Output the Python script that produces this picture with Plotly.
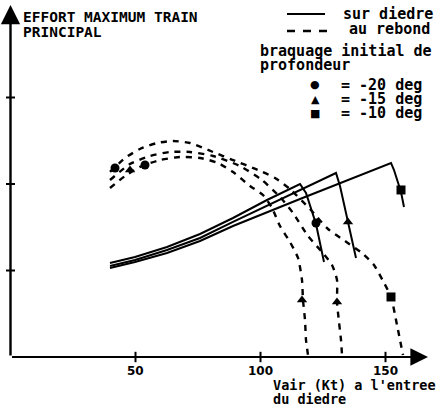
import plotly.graph_objects as go

# ---------------- data ----------------
# "sur diedre" (solid) curves: speed (Kt) vs max effort (arbitrary units)
sur_m20_x = [39.8, 49.8, 62.6, 75.8, 89.0, 102.6, 115.8, 118.2, 122.2, 125.4]
sur_m20_y = [1.087, 1.156, 1.272, 1.422, 1.607, 1.815, 2.000, 1.896, 1.538, 1.098]
sur_m15_x = [39.8, 49.8, 62.6, 75.8, 89.0, 102.6, 130.2, 131.8, 135.0, 138.2]
sur_m15_y = [1.052, 1.121, 1.237, 1.376, 1.561, 1.746, 2.127, 1.977, 1.561, 1.145]
sur_m10_x = [39.8, 49.8, 62.6, 75.8, 89.0, 102.6, 115.8, 152.2, 153.4, 156.2, 157.4]
sur_m10_y = [1.029, 1.098, 1.202, 1.341, 1.514, 1.676, 1.827, 2.243, 2.162, 1.908, 1.734]

# "au rebond" (dashed) curves
reb_m20_x = [39.8, 45.8, 51.8, 59.8, 67.8, 75.8, 83.0, 89.0, 95.8, 101.0, 104.6, 107.8,
             111.8, 115.0, 116.6, 117.0, 117.8, 118.2, 119.0]
reb_m20_y = [1.954, 2.092, 2.197, 2.277, 2.312, 2.301, 2.243, 2.139, 1.977, 1.873, 1.723, 1.514,
             1.329, 1.145, 0.890, 0.659, 0.428, 0.197, 0.023]
reb_m15_x = [39.8, 47.8, 55.8, 63.8, 71.8, 81.0, 91.8, 100.6, 107.8, 113.0, 119.0, 124.6,
             128.6, 130.6, 130.6, 131.4, 132.2, 132.6]
reb_m15_y = [2.046, 2.231, 2.324, 2.370, 2.370, 2.324, 2.208, 2.046, 1.850, 1.665, 1.399, 1.214,
             1.064, 0.890, 0.636, 0.405, 0.197, 0.023]
reb_m10_x = [39.8, 45.8, 51.8, 58.6, 65.0, 71.8, 81.0, 89.0, 99.0, 105.8, 111.8, 119.8,
             127.0, 133.8, 140.6, 145.4, 149.0, 152.2, 154.6, 157.0]
reb_m10_y = [2.139, 2.301, 2.405, 2.474, 2.497, 2.474, 2.370, 2.277, 2.162, 2.069, 1.942, 1.711,
             1.480, 1.341, 1.202, 1.064, 0.879, 0.694, 0.370, 0.023]

# marker points on the curves
mark_sur_x = [122.2, 135.0, 156.2]
mark_sur_y = [1.549, 1.561, 1.931]
mark_sur_sym = ["circle", "triangle-up", "square"]
mark_reb_low_x = [116.6, 130.6, 152.2]
mark_reb_low_y = [0.659, 0.636, 0.694]
mark_reb_low_sym = ["triangle-up", "triangle-up", "square"]
mark_reb_start_x = [41.8, 47.8, 53.8]
mark_reb_start_y = [2.185, 2.162, 2.220]
mark_reb_start_sym = ["circle", "triangle-up", "circle"]

x_ticks = [50, 100, 150]
x_tick_labels = ["50", "100", "150"]
y_ticks = [1, 2, 3]
x_axis_end = 167.0
y_axis_end = 4.07

legend_items = ["= -20 deg", "= -15 deg", "= -10 deg"]
legend_symbols = ["\u25CF", "\u25B2", "\u25A0"]

# ---------------- figure ----------------
W, H = 436, 411
X0_PX, X_SCALE = 10.5, 2.5
Y0_PX, Y_SCALE = 357.0, 86.5
x_range = [-X0_PX / X_SCALE, (W - X0_PX) / X_SCALE]
y_range = [-(H - Y0_PX) / Y_SCALE, Y0_PX / Y_SCALE]

INK = "#000000"
MONO = "DejaVu Sans Mono"
SANS = "DejaVu Sans"


def px(x, y):
    return x / W, 1 - y / H


fig = go.Figure()

for xs, ys in [(sur_m20_x, sur_m20_y), (sur_m15_x, sur_m15_y), (sur_m10_x, sur_m10_y)]:
    fig.add_trace(go.Scatter(x=xs, y=ys, mode="lines",
                             line=dict(color=INK, width=2), hoverinfo="skip"))
for xs, ys in [(reb_m20_x, reb_m20_y), (reb_m15_x, reb_m15_y), (reb_m10_x, reb_m10_y)]:
    fig.add_trace(go.Scatter(x=xs, y=ys, mode="lines",
                             line=dict(color=INK, width=2.4, dash="6px,6px", shape="spline",
                                       smoothing=0.6),
                             hoverinfo="skip"))

for xs, ys, sy in [(mark_sur_x, mark_sur_y, mark_sur_sym),
                   (mark_reb_low_x, mark_reb_low_y, mark_reb_low_sym),
                   (mark_reb_start_x, mark_reb_start_y, mark_reb_start_sym)]:
    fig.add_trace(go.Scatter(x=xs, y=ys, mode="markers",
                             marker=dict(color=INK, size=9, symbol=sy,
                                         line=dict(width=0)),
                             hoverinfo="skip"))

shapes = []
annotations = []

# axes lines with arrows
annotations.append(dict(x=x_axis_end, y=0, ax=0, ay=0, xref="x", yref="y", axref="x", ayref="y",
                        text="", showarrow=True, arrowhead=2, arrowsize=1.6, arrowwidth=2.2,
                        arrowcolor=INK, standoff=0))
annotations.append(dict(x=0, y=y_axis_end, ax=0, ay=0, xref="x", yref="y", axref="x", ayref="y",
                        text="", showarrow=True, arrowhead=2, arrowsize=1.6, arrowwidth=2.4,
                        arrowcolor=INK, standoff=0))

# tick marks (crossing the axis)
for t in x_ticks:
    shapes.append(dict(type="line", xref="x", yref="y", x0=t, x1=t, y0=-0.06, y1=0.06,
                       line=dict(color=INK, width=2)))
for t in y_ticks:
    shapes.append(dict(type="line", xref="x", yref="y", x0=-1.8, x1=1.8, y0=t, y1=t,
                       line=dict(color=INK, width=2)))
for t, lab in zip(x_ticks, x_tick_labels):
    annotations.append(dict(x=t, y=-0.16, xref="x", yref="y", text="<b>%s</b>" % lab,
                            showarrow=False, font=dict(family=SANS, size=12, color=INK),
                            xanchor="center", yanchor="middle"))


def label(text, x, y, size=13, anchor="left", family=MONO):
    px_x, px_y = px(x, y)
    annotations.append(dict(x=px_x, y=px_y, xref="paper", yref="paper", text="<b>%s</b>" % text,
                            showarrow=False, xanchor=anchor, yanchor="middle", borderpad=0,
                            font=dict(family=family, size=size, color=INK)))


label("EFFORT MAXIMUM TRAIN", 22, 17, 14.5)
label("PRINCIPAL", 22, 32, 14.5)
label("sur diedre", 342, 14, 15)
label("au rebond", 348, 29, 15)
label("braquage initial de", 259, 51, 15)
label("profondeur", 259, 65, 15)
for i, (txt, sym) in enumerate(zip(legend_items, legend_symbols)):
    yy = 85 + 14 * i
    label(txt, 340, yy, 15)
    label(sym, 315, yy, 11, anchor="center", family=SANS)
label("Vair (Kt) a l'entree", 272, 385, 13.5)
label("du diedre", 272, 399, 13.5)

# legend line samples
x0, y0 = px(287, 14)
x1, _ = px(325, 14)
shapes.append(dict(type="line", xref="paper", yref="paper", x0=x0, x1=x1, y0=y0, y1=y0,
                   line=dict(color=INK, width=2)))
x0, y0 = px(287, 31)
x1, _ = px(327, 31)
shapes.append(dict(type="line", xref="paper", yref="paper", x0=x0, x1=x1, y0=y0, y1=y0,
                   line=dict(color=INK, width=2.4, dash="8px,8px")))

fig.update_layout(
    width=W, height=H,
    margin=dict(l=0, r=0, t=0, b=0),
    paper_bgcolor="white", plot_bgcolor="white",
    showlegend=False,
    xaxis=dict(range=x_range, visible=False, fixedrange=True),
    yaxis=dict(range=y_range, visible=False, fixedrange=True),
    shapes=shapes,
    annotations=annotations,
)

fig.write_html("out.html", config={"displayModeBar": False},
               post_script="document.body.style.margin='0px';")
